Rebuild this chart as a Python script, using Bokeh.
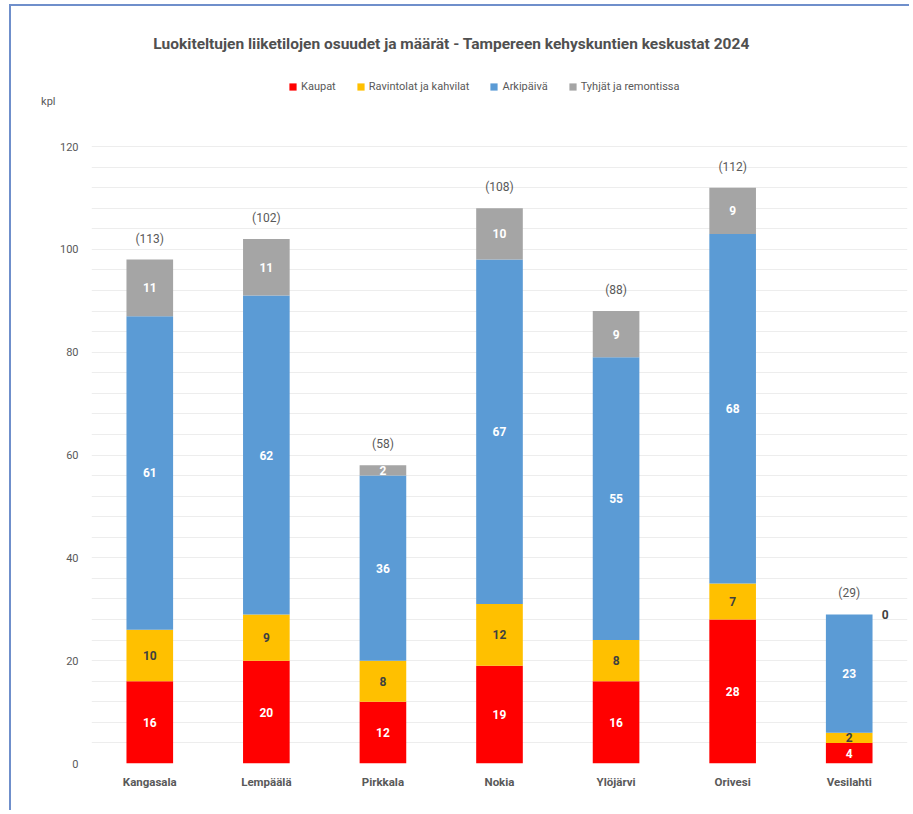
from bokeh.plotting import figure
from bokeh.models import (ColumnDataSource, FactorRange, Range1d, FixedTicker,
                          Legend, LegendItem, Label, LabelSet, LinearAxis)
from bokeh.core.properties import value
from bokeh.embed import file_html
from bokeh.resources import INLINE

# ---------------- data ----------------
categories = ["Kangasala", "Lempäälä", "Pirkkala", "Nokia", "Ylöjärvi", "Orivesi", "Vesilahti"]
kaupat = [16, 20, 12, 19, 16, 28, 4]
ravintolat = [10, 9, 8, 12, 8, 7, 2]
arkipaiva = [61, 62, 36, 67, 55, 68, 23]
tyhjat = [11, 11, 2, 10, 9, 9, 0]
totals = [113, 102, 58, 108, 88, 112, 29]
series_names = ["Kaupat", "Ravintolat ja kahvilat", "Arkipäivä", "Tyhjät ja remontissa"]
y_ticks = [0, 20, 40, 60, 80, 100, 120]
grid_ticks = list(range(0, 121, 4))
title_text = "Luokiteltujen liiketilojen osuudet ja määrät  - Tampereen kehyskuntien keskustat 2024"
unit_text = "kpl"

# ---------------- style ----------------
FONT = "Roboto"
colors = ["#FF0000", "#FFC000", "#5B9BD5", "#A5A5A5"]
label_colors = ["#FFFFFF", "#404040", "#FFFFFF", "#FFFFFF"]
TXT = "#595959"
Y_TOP = 147.23      # frame extends above the 120 gridline to hold title and legend
TITLE_Y = 139.84
UNIT_Y = 128.75

keys = ["kaupat", "ravintolat", "arkipaiva", "tyhjat"]
series = [kaupat, ravintolat, arkipaiva, tyhjat]
source = ColumnDataSource(dict(cat=categories, **{k: v for k, v in zip(keys, series)}))

p = figure(x_range=FactorRange(factors=categories, range_padding=0),
           y_range=Range1d(0, Y_TOP),
           width=900, height=806,
           min_border_left=80, min_border_right=4,
           min_border_top=0, min_border_bottom=49,
           output_backend="svg", toolbar_location=None)
p.styles = {"margin-left": "9px", "margin-top": "4px",
            "border-left": "2px solid #6F8FCB", "border-top": "2px solid #6F8FCB"}
p.outline_line_color = None
p.background_fill_color = "white"
p.border_fill_color = "white"

renderers = p.vbar_stack(keys, x="cat", width=0.4, color=colors, line_color=None,
                         source=source)

# grid
p.xgrid.grid_line_color = None
p.ygrid.ticker = FixedTicker(ticks=grid_ticks)
p.ygrid.grid_line_color = "#EDEDED"
p.ygrid.grid_line_width = 1

# axes
p.yaxis.ticker = FixedTicker(ticks=y_ticks)
for ax in (p.xaxis[0], p.yaxis[0]):
    ax.axis_line_color = None
    ax.major_tick_line_color = None
    ax.minor_tick_line_color = None
    ax.major_label_text_font = FONT
    ax.major_label_text_color = TXT
p.yaxis.major_label_text_font_size = "11px"
p.yaxis.major_label_standoff = 7
p.xaxis.major_label_text_font_size = "11.5px"
p.xaxis.major_label_text_font_style = "bold"
p.xaxis.major_label_standoff = 5

# unit label ("kpl") as an outer left axis with a single labelled tick
unit_axis = LinearAxis(ticker=FixedTicker(ticks=[UNIT_Y]),
                       major_label_overrides={UNIT_Y: unit_text},
                       axis_line_color=None, major_tick_line_color=None,
                       minor_tick_line_color=None, major_label_standoff=-5,
                       major_label_text_font=FONT, major_label_text_font_size="11px",
                       major_label_text_color=TXT)
p.add_layout(unit_axis, "left")

# segment labels
lx, ly, lt, lc, lo = [], [], [], [], []
for i, c in enumerate(categories):
    base = 0
    for s, vals in enumerate(series):
        v = vals[i]
        lx.append(c)
        lt.append(str(v))
        if v == 0:
            ly.append(base)
            lc.append("#404040")
            lo.append(36)
        else:
            ly.append(base + v / 2)
            lc.append(label_colors[s])
            lo.append(0)
        base += v
seg_src = ColumnDataSource(dict(x=lx, y=ly, text=lt, color=lc, xo=lo))
p.add_layout(LabelSet(x="x", y="y", text="text", source=seg_src, text_color="color",
                      x_offset="xo", text_align="center", text_baseline="middle",
                      text_font=value(FONT), text_font_size="12px", text_font_style="bold"))

# totals
tops = [sum(vals[i] for vals in series) for i in range(len(categories))]
tot_src = ColumnDataSource(dict(x=categories, y=tops, text=["(%d)" % t for t in totals]))
p.add_layout(LabelSet(x="x", y="y", text="text", source=tot_src, y_offset=21,
                      text_color=TXT, text_align="center", text_baseline="middle",
                      text_font=value(FONT), text_font_size="12px"))

# title
p.add_layout(Label(x=3.105, y=TITLE_Y, text=title_text, text_align="center",
                   text_baseline="middle", text_font=FONT, text_font_size="15.5px",
                   text_font_style="bold", text_color="#505050"))

# legend
legend = Legend(items=[LegendItem(label=n, renderers=[r]) for n, r in zip(series_names, renderers)],
                orientation="horizontal", location=(197, 670),
                glyph_width=9, glyph_height=9, label_height=9, label_standoff=4,
                spacing=20, padding=0, margin=0,
                border_line_color=None, background_fill_alpha=0,
                label_text_font=FONT, label_text_font_size="11px", label_text_color=TXT)
p.add_layout(legend, "center")

open("out.html", "w").write(file_html(p, INLINE))
